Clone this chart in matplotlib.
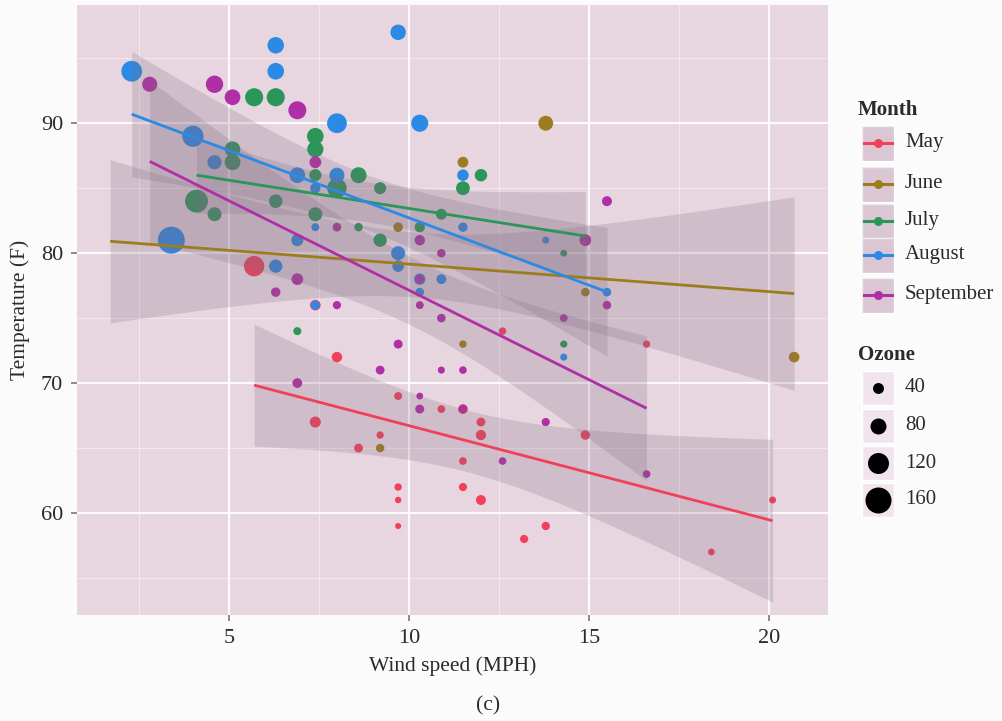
import math
import numpy as np
import matplotlib
matplotlib.use("Agg")
import matplotlib.pyplot as plt
from matplotlib.patches import Rectangle

# ---- data (airquality: wind, temperature, ozone, month) ----
wind = [7.4, 8.0, 12.6, 11.5, 14.3, 14.9, 8.6, 13.8, 20.1, 8.6, 6.9, 9.7, 9.2, 10.9, 13.2, 11.5, 12.0, 18.4, 11.5, 9.7,
        9.7, 16.6, 9.7, 12.0, 16.6, 14.9, 8.0, 12.0, 14.9, 5.7, 7.4,
        8.6, 9.7, 16.1, 9.2, 8.6, 14.3, 9.7, 6.9, 13.8, 11.5, 10.9, 9.2, 8.0, 13.8, 11.5, 14.9, 20.7, 9.2, 11.5, 10.3,
        6.3, 1.7, 4.6, 6.3, 8.0, 8.0, 10.3, 11.5, 14.9, 8.0,
        4.1, 9.2, 9.2, 10.9, 4.6, 10.9, 5.1, 6.3, 5.7, 7.4, 8.6, 14.3, 14.9, 14.9, 14.3, 6.9, 10.3, 6.3, 5.1, 11.5,
        6.9, 9.7, 11.5, 8.6, 8.0, 8.6, 12.0, 7.4, 7.4, 7.4, 9.2,
        6.9, 13.8, 7.4, 6.9, 7.4, 4.6, 4.0, 10.3, 8.0, 8.6, 11.5, 11.5, 11.5, 9.7, 11.5, 10.3, 6.3, 7.4, 10.9, 10.3,
        15.5, 14.3, 12.6, 9.7, 3.4, 8.0, 5.7, 9.7, 2.3, 6.3, 6.3,
        6.9, 5.1, 2.8, 4.6, 7.4, 15.5, 10.9, 10.3, 10.9, 9.7, 14.9, 15.5, 6.3, 10.9, 11.5, 6.9, 13.8, 10.3, 10.3, 8.0,
        12.6, 9.2, 10.3, 10.3, 16.6, 6.9, 13.2, 14.3, 8.0, 11.5]
temp = [67, 72, 74, 62, 56, 66, 65, 59, 61, 69, 74, 69, 66, 68, 58, 64, 66, 57, 68, 62,
        59, 73, 61, 61, 57, 58, 57, 67, 81, 79, 76,
        78, 74, 67, 84, 85, 79, 82, 87, 90, 87, 93, 92, 82, 80, 79, 77, 72, 65, 73, 76,
        77, 76, 76, 76, 75, 78, 73, 80, 77, 83,
        84, 85, 81, 84, 83, 83, 88, 92, 92, 89, 82, 73, 81, 91, 80, 81, 82, 84, 87, 85,
        74, 81, 82, 86, 85, 82, 86, 88, 86, 83, 81,
        81, 81, 82, 86, 85, 87, 89, 90, 90, 92, 86, 86, 82, 80, 79, 77, 79, 76, 78, 78,
        77, 72, 75, 79, 81, 86, 88, 97, 94, 96, 94,
        91, 92, 93, 93, 87, 84, 80, 78, 75, 73, 81, 76, 77, 71, 71, 78, 67, 76, 68, 82,
        64, 71, 81, 69, 63, 70, 77, 75, 76, 68]
nan = float("nan")
ozone = [41, 36, 12, 18, nan, 28, 23, 19, 8, nan, 7, 16, 11, 14, 18, 14, 34, 6, 30, 11,
         1, 11, 4, 32, nan, nan, nan, 23, 45, 115, 37,
         nan, nan, nan, nan, nan, nan, 29, nan, 71, 39, nan, nan, 23, nan, nan, 21, 37, 20, 12, 13,
         nan, nan, nan, nan, nan, nan, nan, nan, nan, nan,
         135, 49, 32, nan, 64, 40, 77, 97, 97, 85, nan, 10, 27, nan, 7, 48, 35, 61, 79, 63,
         16, nan, nan, 80, 108, 20, 52, 82, 50, 64, 59,
         39, 9, 16, 78, 35, 66, 122, 89, 110, nan, nan, 44, 28, 65, nan, 22, 59, 23, 31, 44,
         21, 9, nan, 45, 168, 73, nan, 76, 118, 84, 85,
         96, 78, 73, 91, 47, 32, 20, 23, 21, 24, 44, 21, 28, 9, 13, 46, 18, 13, 24, 16,
         13, 23, 36, 7, 14, 30, nan, 14, 18, 20]
month = [5] * 31 + [6] * 30 + [7] * 31 + [8] * 31 + [9] * 30
month_names = ["May", "June", "July", "August", "September"]
month_codes = [5, 6, 7, 8, 9]
ozone_breaks = [40, 80, 120, 160]
x_ticks = [5, 10, 15, 20]
y_ticks = [60, 70, 80, 90]

# ---- styles ----
colors = ["#f0405a", "#9c7d1e", "#2a9658", "#2a8ae6", "#b02fa6"]
panel_bg = "#e7d5df"
fig_bg = "#fcfbfc"
ribbon_col = "#7d6a80"
text_col = "#2a2a2a"
serif = ["Liberation Serif", "DejaVu Serif"]

W = np.array(wind, float)
T = np.array(temp, float)
O = np.array(ozone, float)
M = np.array(month)

DPI = 100
fig = plt.figure(figsize=(10.03, 7.21), dpi=DPI, facecolor=fig_bg)
L, R, TOP, BOT = 77, 828, 5, 615
ax = fig.add_axes([L / 1003, 1 - BOT / 721, (R - L) / 1003, (BOT - TOP) / 721])
ax.set_facecolor(panel_bg)


def size_px(oz):
    oz = np.asarray(oz, float)
    sz = 1 + 5 * (oz - 1) / 167.0  # size range 1..6 (linear)
    return 1.9 + 4.18 * sz


def s_from_px(d):
    return (np.asarray(d) * 72.0 / DPI) ** 2


def t_ppf975(df):
    xs = np.linspace(0, 6, 60001)
    c = math.gamma((df + 1) / 2) / (math.sqrt(df * math.pi) * math.gamma(df / 2))
    pdf = c * (1 + xs ** 2 / df) ** (-(df + 1) / 2)
    cdf = 0.5 + np.concatenate([[0], np.cumsum((pdf[1:] + pdf[:-1]) / 2 * np.diff(xs))])
    return float(np.interp(0.975, cdf, xs))


# points
valid = ~np.isnan(O)
for code, col in zip(month_codes, colors):
    m = (M == code) & valid
    ax.scatter(W[m], T[m], s=s_from_px(size_px(O[m])), color=col, linewidths=0, zorder=2)

# smoothers (linear fit with 95% CI)
for code, col in zip(month_codes, colors):
    m = M == code
    x, y = W[m], T[m]
    n = len(x)
    b, a = np.polyfit(x, y, 1)
    resid = y - (a + b * x)
    s = math.sqrt(np.sum(resid ** 2) / (n - 2))
    sxx = np.sum((x - x.mean()) ** 2)
    xg = np.linspace(x.min(), x.max(), 80)
    yg = a + b * xg
    se = s * np.sqrt(1 / n + (xg - x.mean()) ** 2 / sxx)
    tq = t_ppf975(n - 2)
    lo, hi = yg - tq * se, yg + tq * se
    ax.fill_between(xg, lo, hi, color=ribbon_col, alpha=0.22, linewidth=0, zorder=3)
    ax.plot(xg, yg, color=col, lw=2.0, zorder=4, solid_capstyle="butt")

ax.set_xlim(0.78, 21.64)
ax.set_ylim(52.15, 99.1)

ax.set_xticks(x_ticks)
ax.set_yticks(y_ticks)
ax.set_xticks([2.5, 7.5, 12.5, 17.5], minor=True)
ax.set_yticks([55, 65, 75, 85, 95], minor=True)
ax.grid(True, which="major", color="white", lw=1.6, alpha=0.9, zorder=1)
ax.grid(True, which="minor", color="white", lw=0.8, alpha=0.45, zorder=1)
ax.set_axisbelow(True)
for sp in ax.spines.values():
    sp.set_visible(False)
ax.tick_params(which="major", length=4, width=1.2, color="#8a6a7a", labelsize=16,
               labelcolor=text_col)
ax.tick_params(axis="x", which="major", pad=6)
ax.tick_params(axis="y", which="major", pad=6)
ax.tick_params(which="minor", length=0)
for lab in ax.get_xticklabels() + ax.get_yticklabels():
    lab.set_family(serif)
ax.set_xlabel("Wind speed (MPH)", family=serif, fontsize=15.5, color=text_col, labelpad=6)
ax.set_ylabel("Temperature (F)", family=serif, fontsize=15.5, color=text_col, labelpad=8)

fig.text(488 / 1003, 1 - 706 / 721, "(c)", family=serif, fontsize=15.5, color=text_col,
         ha="center", va="center")

# ---- legends (overlay in pixel coordinates) ----
lg = fig.add_axes([0, 0, 1, 1], facecolor="none")
lg.set_xlim(0, 1003)
lg.set_ylim(721, 0)
lg.axis("off")

lg.text(858, 110, "Month", family=serif, fontsize=15, fontweight="bold", color=text_col,
        ha="left", va="center")
month_rows = [143, 184, 221, 255, 295]
for name, col, yc in zip(month_names, colors, month_rows):
    lg.add_patch(Rectangle((862, yc - 17), 32, 35, facecolor=panel_bg, edgecolor="white", lw=1.0))
    lg.add_patch(Rectangle((862, yc - 17), 32, 35, facecolor=ribbon_col, alpha=0.12, lw=0))
    lg.plot([864, 892], [yc, yc], color=col, lw=2.2)
    lg.scatter([878], [yc], s=s_from_px(9), color=col, linewidths=0, zorder=5)
    lg.text(905, yc, name, family=serif, fontsize=15, color=text_col, ha="left", va="center")

lg.text(858, 355, "Ozone", family=serif, fontsize=15, fontweight="bold", color=text_col,
        ha="left", va="center")
oz_rows = [388, 426, 463, 500]
for br, yc in zip(ozone_breaks, oz_rows):
    h = 34
    lg.add_patch(Rectangle((862, yc - h / 2), 32, h, facecolor="#f1e4ec", edgecolor="white", lw=1.0))
    lg.scatter([878], [yc], s=s_from_px(size_px(br)), color="black", linewidths=0, zorder=5)
    lg.text(905, yc, str(br), family=serif, fontsize=15, color=text_col, ha="left", va="center")

fig.savefig("out.png", dpi=DPI, facecolor=fig_bg)
